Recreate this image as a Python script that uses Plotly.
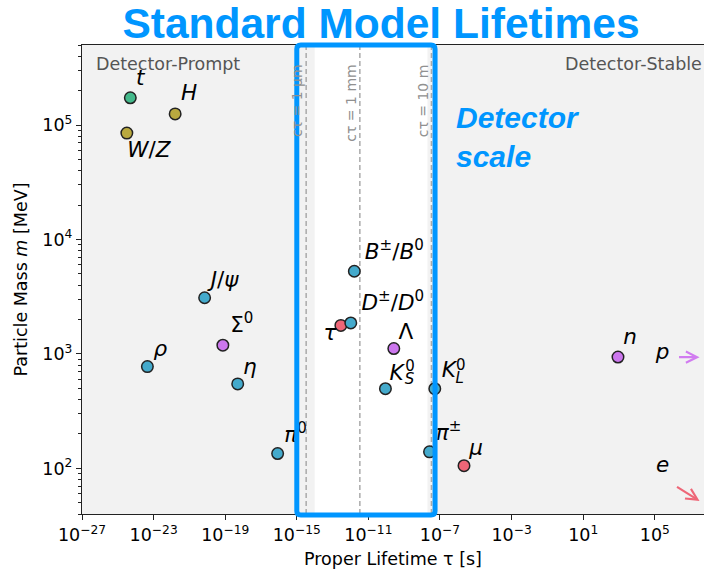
import numpy as np
import plotly.graph_objects as go

# ---------------- data ----------------
labels = ["<i>t</i>", "<i>H</i>", "<i>W</i>/<i>Z</i>", "<i>ρ</i>", "<i>J</i>/<i>ψ</i>",
          "Σ<sup>0</sup>", "<i>η</i>", "<i>π</i><sup>0</sup>", "<i>τ</i>",
          "<i>D</i><sup>±</sup>/<i>D</i><sup>0</sup>", "<i>B</i><sup>±</sup>/<i>B</i><sup>0</sup>",
          "<i>K</i>", "Λ", "<i>π</i><sup>±</sup>", "<i>K</i>", "<i>μ</i>", "<i>n</i>"]
lifetimes = [5.0e-25, 1.6e-22, 3.2e-25, 4.5e-24, 7.1e-21,
             7.4e-20, 5.0e-19, 8.5e-17, 2.9e-13,
             1.04e-12, 1.64e-12,
             8.95e-11, 2.63e-10, 2.6e-8, 5.12e-8, 2.197e-6, 879.4]
masses = [172760, 125100, 85000, 775.3, 3096.9,
          1192.6, 547.9, 134.98, 1776.9,
          1867.0, 5279.0,
          497.6, 1115.7, 139.57, 497.6, 105.66, 939.57]
groups = ["top", "boson", "boson", "meson", "meson",
          "baryon", "meson", "meson", "lepton",
          "meson", "meson",
          "meson", "baryon", "meson", "meson", "lepton", "baryon"]
# label offsets (px) of text centre from the marker
label_dx = [10, 14, 22, 13, 20, 19, 12, 18, -11, 42, 40, 11, 12, 19, 14, 12, 12]
label_dy = [-18, -19, 19, -16, -16, -19, -15, -17, 9, -18, -18, -14, -15, -17, -17, -16, -18]

# K0 sub/superscripts (stacked)
kidx = [11, 11, 14, 14]
k_small = ["0", "<i>S</i>", "0", "<i>L</i>"]
k_dx = [24.5, 24, 26, 25]
k_dy = [-21, -8.5, -22, -9.5]

# off-scale particles (arrows)
off_labels = ["<i>p</i>", "<i>e</i>"]
off_head_tau = [10**7.5, 10**7.5]
off_head_m = [938.27, 52.0]
off_tail_dx = [-22, -24]
off_tail_dy = [0, -15]
off_label_tau = [10**5.44, 10**5.44]
off_label_m = [1010, 104]
off_colors = ["#d17cf0", "#ee6677"]

# decay length markers
ctau_m = [1e-6, 1e-3, 10.0]
ctau_text = ["cτ = 1 μm", "cτ = 1 mm", "cτ = 10 m"]
C_LIGHT = 2.998e8

palette = {"top": "#44b98b", "boson": "#b9a93f", "meson": "#44aacc",
           "baryon": "#cc77ee", "lepton": "#ee6677"}

XR = [-27, 7.75]
YR = [np.log10(40), np.log10(5e5)]
W, H = 704, 570
ML, MR, MT, MB = 82, 0, 45, 56
PXX = (W - ML - MR) / (XR[1] - XR[0])
PXY = (H - MT - MB) / (YR[1] - YR[0])

BLUE = "#0096ff"

def shift(tau, m, dx, dy):
    return 10 ** (np.log10(tau) + dx / PXX), 10 ** (np.log10(m) - dy / PXY)

fig = go.Figure()

# markers
fig.add_trace(go.Scatter(
    x=lifetimes, y=masses, mode="markers", cliponaxis=False,
    marker=dict(size=11.5, color=[palette[g] for g in groups],
                line=dict(color="#222222", width=1.5)),
    hoverinfo="skip", showlegend=False))

# labels
lx, ly = zip(*[shift(t, m, dx, dy) for t, m, dx, dy in zip(lifetimes, masses, label_dx, label_dy)])
fig.add_trace(go.Scatter(
    x=lx, y=ly, mode="text", text=labels, textposition="middle center", cliponaxis=False,
    textfont=dict(family="DejaVu Sans", size=21.5, color="black"),
    hoverinfo="skip", showlegend=False))

sx, sy = zip(*[shift(lifetimes[i], masses[i], dx, dy) for i, dx, dy in zip(kidx, k_dx, k_dy)])
fig.add_trace(go.Scatter(
    x=sx, y=sy, mode="text", text=k_small, textposition="middle center", cliponaxis=False,
    textfont=dict(family="DejaVu Sans", size=15, color="black"),
    hoverinfo="skip", showlegend=False))

fig.add_trace(go.Scatter(
    x=off_label_tau, y=off_label_m, mode="text", text=off_labels, textposition="middle center",
    cliponaxis=False, textfont=dict(family="DejaVu Sans", size=21.5, color="black"),
    hoverinfo="skip", showlegend=False))

shapes = []
# white detector band
shapes.append(dict(type="rect", xref="x", yref="paper", x0=1e-14, x1=2e-8, y0=0, y1=1,
                   fillcolor="white", line=dict(width=0), layer="below"))
# dashed ctau lines
for d in ctau_m:
    shapes.append(dict(type="line", xref="x", yref="paper", x0=d / C_LIGHT, x1=d / C_LIGHT,
                       y0=0, y1=1, line=dict(color="#aaaaaa", width=1.5, dash="5px,3px"),
                       layer="below"))

# blue detector-scale box (rounded)
def xpaper(tau):
    return (np.log10(tau) - XR[0]) / (XR[1] - XR[0])
bx0, bx1 = xpaper(1e-15), xpaper(5.3e-8)
by0, by1 = -0.002, 1.0
rx, ry = 4 / (W - ML - MR), 4 / (H - MT - MB)
path = (f"M {bx0+rx},{by0} L {bx1-rx},{by0} Q {bx1},{by0} {bx1},{by0+ry} "
        f"L {bx1},{by1-ry} Q {bx1},{by1} {bx1-rx},{by1} L {bx0+rx},{by1} "
        f"Q {bx0},{by1} {bx0},{by1-ry} L {bx0},{by0+ry} Q {bx0},{by0} {bx0+rx},{by0} Z")
shapes.append(dict(type="path", xref="paper", yref="paper", path=path,
                   line=dict(color=BLUE, width=5), fillcolor="rgba(0,0,0,0)", layer="above"))

annotations = []
for d, t in zip(ctau_m, ctau_text):
    annotations.append(dict(x=np.log10(d / C_LIGHT), y=0.963, xref="x", yref="paper", text=t,
                            textangle=-90, showarrow=False, xanchor="right", yanchor="top",
                            xshift=1, font=dict(family="DejaVu Sans", size=14, color="#909090")))
annotations.append(dict(x=0.019, y=0.9605, xref="paper", yref="paper", text="Detector-Prompt",
                        showarrow=False, xanchor="left", yanchor="middle",
                        font=dict(family="DejaVu Sans", size=17.5, color="#555555")))
annotations.append(dict(x=0.9995, y=0.9605, xref="paper", yref="paper", text="Detector-Stable",
                        showarrow=False, xanchor="right", yanchor="middle",
                        font=dict(family="DejaVu Sans", size=17.5, color="#555555")))
annotations.append(dict(x=(454 - ML) / (W - ML - MR), y=(H - MB - 99) / (H - MT - MB),
                        xref="paper", yref="paper", text="Detector<br>scale", align="left",
                        showarrow=False, xanchor="left", yanchor="top",
                        font=dict(family="Liberation Sans", size=30, color=BLUE,
                                  weight="bold", style="italic")))
for ht, hm, tdx, tdy, c in zip(off_head_tau, off_head_m, off_tail_dx, off_tail_dy, off_colors):
    annotations.append(dict(x=np.log10(ht), y=np.log10(hm), xref="x", yref="y",
                            ax=tdx, ay=tdy, axref="pixel", ayref="pixel", text="",
                            showarrow=True, arrowhead=5, arrowsize=1.0, arrowwidth=2.2,
                            arrowcolor=c))

xt = [10.0 ** k for k in range(-27, 6, 4)]
xtt = [f"10<sup>{'−' if k < 0 else ''}{abs(k)}</sup>" for k in range(-27, 6, 4)]
yt = [1e2, 1e3, 1e4, 1e5]
ytt = ["10<sup>2</sup>", "10<sup>3</sup>", "10<sup>4</sup>", "10<sup>5</sup>"]
yminor = [m * 10.0 ** k for k in range(1, 6) for m in range(2, 10) if 40 <= m * 10.0 ** k <= 5e5]

axis_font = dict(family="DejaVu Sans", size=17.5, color="black")
fig.update_layout(
    width=W, height=H, margin=dict(l=ML, r=MR, t=MT, b=MB, pad=0),
    paper_bgcolor="white", plot_bgcolor="#f2f2f2",
    shapes=shapes, annotations=annotations, showlegend=False,
    title=dict(text="<b>Standard Model Lifetimes</b>", x=381 / W, xanchor="center",
               y=1 - 23 / H, yanchor="middle",
               font=dict(family="Liberation Sans", size=42.5, color=BLUE)),
    xaxis=dict(type="log", range=XR, showgrid=False, zeroline=False,
               showline=True, linecolor="#222222", linewidth=1.2, mirror=True,
               ticks="outside", ticklen=5, tickwidth=1, tickcolor="#222222",
               tickmode="array", tickvals=xt, ticktext=xtt, tickfont=axis_font,
               title=dict(text="Proper Lifetime τ [s]", standoff=8,
                          font=dict(family="DejaVu Sans", size=17.5, color="black"))),
    yaxis=dict(type="log", range=YR, showgrid=False, zeroline=False,
               showline=True, linecolor="#222222", linewidth=1.2, mirror=True,
               ticks="outside", ticklen=5, tickwidth=1, tickcolor="#222222",
               tickmode="array", tickvals=yt, ticktext=ytt, tickfont=axis_font,
               minor=dict(tickmode="array", tickvals=yminor, ticks="outside",
                          ticklen=3, tickwidth=0.8, tickcolor="#222222", showgrid=False),
               title=dict(text="Particle Mass <i>m</i> [MeV]", standoff=10,
                          font=dict(family="DejaVu Sans", size=17.5, color="black"))),
)

fig.write_html("out.html")
